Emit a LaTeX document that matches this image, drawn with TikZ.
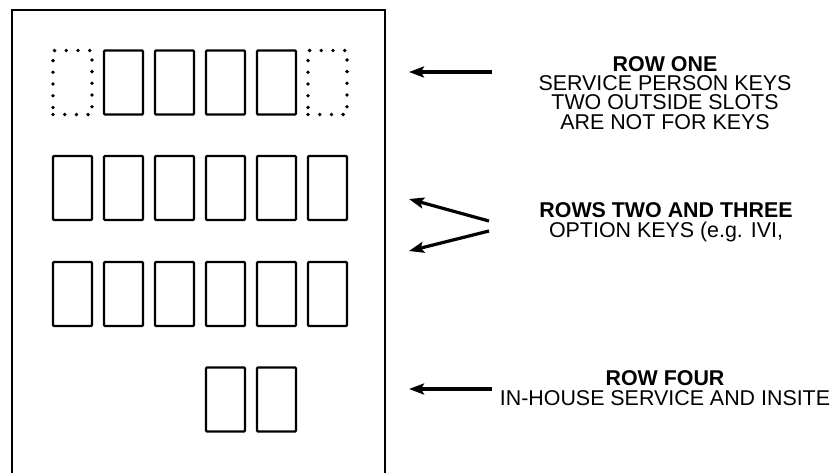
\documentclass[tikz,border=0pt]{standalone}
\usepackage{fontspec}
\setmainfont{Liberation Sans}
\usetikzlibrary{arrows.meta}

\begin{document}
\begin{tikzpicture}[x=1pt, y=-1pt,
  keyslot/.style={draw, line width=2.4pt, rounded corners=1pt, minimum width=39pt, minimum height=64pt, inner sep=0pt, outer sep=0pt},
  emptyslot/.style={keyslot, dash pattern=on 0pt off 11.7pt, line cap=round, line width=3.8pt, rounded corners=0pt},
  label/.style={align=center, inner sep=0pt, font=\fontsize{21.4}{19.2}\selectfont},
  pointer/.style={line width=3.2pt, -{Stealth[length=15pt, width=11pt, inset=3pt]}}]
\useasboundingbox (0,0) rectangle (832,472);

% panel
\draw[line width=2.4pt] (12,490) -- (12,10) -- (385,10) -- (385,490);

% row one
\node[emptyslot] (s11) at (72.5,82.5) {};
\node[keyslot] (s12) at (123.5,82.5) {};
\node[keyslot] (s13) at (174.5,82.5) {};
\node[keyslot] (s14) at (225.5,82.5) {};
\node[keyslot] (s15) at (276.5,82.5) {};
\node[emptyslot] (s16) at (327.5,82.5) {};

% row two
\node[keyslot] (s21) at (72.5,188) {};
\node[keyslot] (s22) at (123.5,188) {};
\node[keyslot] (s23) at (174.5,188) {};
\node[keyslot] (s24) at (225.5,188) {};
\node[keyslot] (s25) at (276.5,188) {};
\node[keyslot] (s26) at (327.5,188) {};

% row three
\node[keyslot] (s31) at (72.5,294) {};
\node[keyslot] (s32) at (123.5,294) {};
\node[keyslot] (s33) at (174.5,294) {};
\node[keyslot] (s34) at (225.5,294) {};
\node[keyslot] (s35) at (276.5,294) {};
\node[keyslot] (s36) at (327.5,294) {};

% row four
\node[keyslot] (s44) at (225.5,399.5) {};
\node[keyslot] (s45) at (276.5,399.5) {};

% texts (base = last line)
\node[label, anchor=base] (rowone) at (665,129) {\textbf{ROW ONE}\\SERVICE PERSON KEYS\\TWO OUTSIDE SLOTS\\ARE NOT FOR KEYS};
\node[label, anchor=base] (rowsmid) at (666,237) {\textbf{ROWS TWO AND THREE}\\OPTION KEYS (e.g. IVI,};
\node[label, anchor=base] (rowfour) at (665,405) {\textbf{ROW FOUR}\\IN-HOUSE SERVICE AND INSITE};

% arrows
\coordinate (a1s) at (492,72);
\coordinate (a1e) at (409,72);
\coordinate (a2s) at (489,221);
\coordinate (a2e) at (409,199);
\coordinate (a3s) at (489,231);
\coordinate (a3e) at (409,251);
\coordinate (a4s) at (492,389);
\coordinate (a4e) at (409,389);
\draw[pointer] (a1s) -- (a1e);
\draw[pointer] (a2s) -- (a2e);
\draw[pointer] (a3s) -- (a3e);
\draw[pointer] (a4s) -- (a4e);
\end{tikzpicture}
\end{document}
